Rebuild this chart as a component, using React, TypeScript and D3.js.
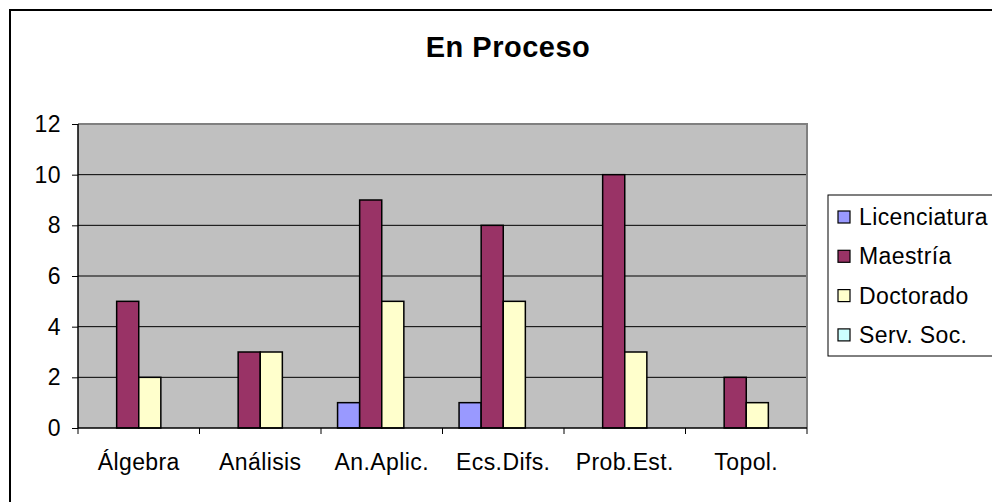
import React, { useRef, useEffect } from 'react';
import * as d3 from 'd3';

const categories = ['Álgebra', 'Análisis', 'An.Aplic.', 'Ecs.Difs.', 'Prob.Est.', 'Topol.'];
const seriesNames = ['Licenciatura', 'Maestría', 'Doctorado', 'Serv. Soc.'];
const licenciatura = [0, 0, 1, 1, 0, 0];
const maestria = [5, 3, 9, 8, 10, 2];
const doctorado = [2, 3, 5, 5, 3, 1];
const servSoc = [0, 0, 0, 0, 0, 0];
const yTicks = [0, 2, 4, 6, 8, 10, 12];
const colors = ['#9999FF', '#993366', '#FFFFCC', '#CCFFFF'];

const App = () => {
  const svgRef = useRef<SVGSVGElement>(null);

  useEffect(() => {
    const width = 992;
    const height = 502;
    const plot = { left: 78, top: 124, right: 807, bottom: 428 };
    const font = 'Liberation Sans, Arial, sans-serif';

    const svg = d3.select(svgRef.current)
      .attr('width', width)
      .attr('height', height);
    svg.selectAll('*').remove();

    // chart frame
    svg.append('rect')
      .attr('x', 10).attr('y', 10)
      .attr('width', 1100).attr('height', 600)
      .attr('fill', '#fff')
      .attr('stroke', '#000')
      .attr('stroke-width', 2);

    svg.append('text')
      .attr('x', 508).attr('y', 57)
      .attr('text-anchor', 'middle')
      .attr('font-family', font)
      .attr('font-weight', 'bold')
      .attr('font-size', 29)
      .attr('letter-spacing', 0.5)
      .text('En Proceso');

    const x = d3.scaleBand()
      .domain(categories)
      .range([plot.left, plot.right]);

    const y = d3.scaleLinear()
      .domain([0, 12])
      .range([plot.bottom, plot.top]);

    // gray plot area
    svg.append('rect')
      .attr('x', plot.left).attr('y', plot.top)
      .attr('width', plot.right - plot.left)
      .attr('height', plot.bottom - plot.top)
      .attr('fill', '#C0C0C0');

    svg.append('g')
      .selectAll('line')
      .data(yTicks.filter(d => d > 0 && d < 12))
      .enter()
      .append('line')
      .attr('x1', plot.left).attr('x2', plot.right)
      .attr('y1', d => y(d)).attr('y2', d => y(d))
      .attr('stroke', '#000')
      .attr('stroke-width', 1);

    // top and right border of plot
    svg.append('path')
      .attr('d', `M${plot.left},${plot.top}H${plot.right}V${plot.bottom}`)
      .attr('fill', 'none')
      .attr('stroke', '#808080')
      .attr('stroke-width', 2);

    const series = [licenciatura, maestria, doctorado, servSoc];
    const barW = x.bandwidth() / 5.5;
    const inner = d3.scaleBand()
      .domain(seriesNames)
      .range([0, barW * 4]);

    const groups = svg.append('g')
      .selectAll('g')
      .data(categories)
      .enter()
      .append('g')
      .attr('transform', d => `translate(${(x(d) as number) + (x.bandwidth() - barW * 4) / 2},0)`);

    groups.selectAll('rect')
      .data((d, i) => series.map((s, k) => ({ name: seriesNames[k], value: s[i], k })))
      .enter()
      .filter(d => d.value > 0)
      .append('rect')
      .attr('x', d => inner(d.name) as number)
      .attr('y', d => y(d.value))
      .attr('width', inner.bandwidth())
      .attr('height', d => plot.bottom - y(d.value))
      .attr('fill', d => colors[d.k])
      .attr('stroke', '#000')
      .attr('stroke-width', 1.5);

    // y axis
    const yAxis = svg.append('g')
      .attr('transform', `translate(${plot.left},0)`)
      .call(d3.axisLeft(y).tickValues(yTicks).tickSize(6).tickPadding(11));
    yAxis.select('.domain').attr('stroke', '#000').attr('stroke-width', 1.5).attr('d', `M0,${plot.top}V${plot.bottom}`);
    yAxis.selectAll('text').attr('font-family', font).attr('font-size', 23).attr('letter-spacing', 0.4).attr('fill', '#000');

    // x axis
    const xAxis = svg.append('g')
      .attr('transform', `translate(0,${plot.bottom})`)
      .call(d3.axisBottom(x).tickSize(0).tickPadding(26));
    xAxis.select('.domain').attr('stroke', '#000').attr('stroke-width', 1.5).attr('d', `M${plot.left},0H${plot.right}`);
    xAxis.selectAll('text').attr('font-family', font).attr('font-size', 23).attr('letter-spacing', 0.4).attr('fill', '#000');
    xAxis.selectAll('.bound')
      .data(d3.range(categories.length + 1))
      .enter()
      .append('line')
      .attr('x1', i => plot.left + i * x.bandwidth())
      .attr('x2', i => plot.left + i * x.bandwidth())
      .attr('y1', 0).attr('y2', 6)
      .attr('stroke', '#000');

    // legend
    const legend = svg.append('g');
    legend.append('rect')
      .attr('x', 828).attr('y', 195)
      .attr('width', 200).attr('height', 161)
      .attr('fill', '#fff')
      .attr('stroke', '#000')
      .attr('stroke-width', 1);
    const items = legend.selectAll('.item')
      .data(seriesNames)
      .enter()
      .append('g')
      .attr('transform', (d, i) => `translate(838,${217 + i * 39.3})`);
    items.append('rect')
      .attr('x', 0).attr('y', -6)
      .attr('width', 12).attr('height', 12)
      .attr('fill', (d, i) => colors[i])
      .attr('stroke', '#000')
      .attr('stroke-width', 1.2);
    items.append('text')
      .attr('x', 21).attr('y', 8)
      .attr('font-family', font)
      .attr('font-size', 23)
      .attr('letter-spacing', 0.4)
      .text(d => d);
  }, []);

  return <svg ref={svgRef} style={{ position: 'absolute', left: 0, top: 0 }}></svg>;
};

export default App;
